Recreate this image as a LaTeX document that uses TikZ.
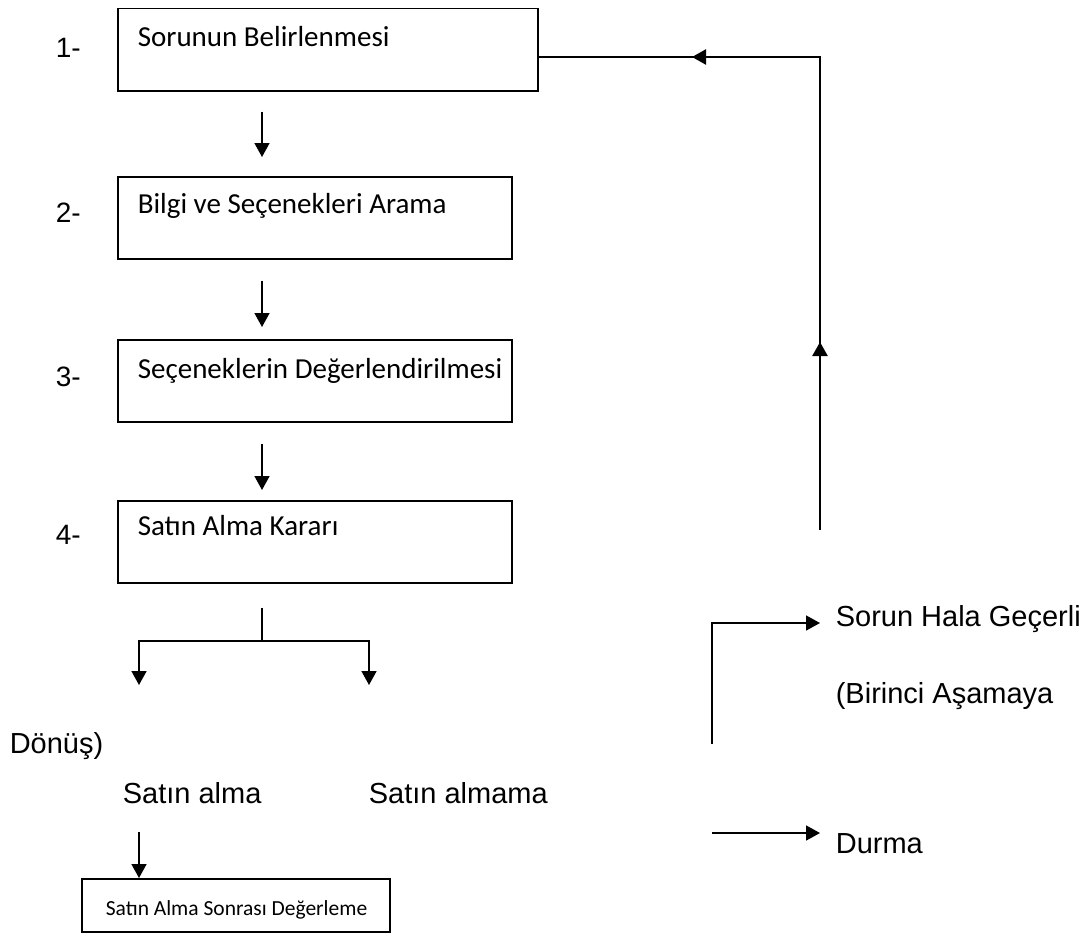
\documentclass[tikz,border=0pt]{standalone}
\usepackage{fontspec}
\setmainfont{Liberation Sans}
\newfontfamily\boxfont{Carlito}
\usetikzlibrary{arrows.meta}

\tikzset{
  stage/.style={draw, line width=1.5pt, anchor=north west, inner sep=0pt, minimum height=82pt},
  stagetext/.style={anchor=base west, inner sep=0pt, font=\boxfont\fontsize{29}{34}\selectfont},
  num/.style={anchor=base west, inner sep=0pt, font=\fontsize{28}{33}\selectfont},
  note/.style={anchor=base west, inner sep=0pt, font=\fontsize{29}{34}\selectfont},
  arr/.style={-{Triangle[length=14pt,width=15pt]}, line width=1.6pt},
}

\begin{document}
\begin{tikzpicture}[x=1pt, y=-1pt, line width=1.6pt]
    \useasboundingbox (0,0) rectangle (1091,942);

    % aşama kutuları
    \node[stage, minimum width=420pt] (s1) at (117,8) {};
    \node[stage, minimum width=394pt] (s2) at (117,176) {};
    \node[stage, minimum width=394pt] (s3) at (117,339) {};
    \node[stage, minimum width=394pt] (s4) at (117,500) {};
    \node[stage, minimum width=308pt, minimum height=53pt] (s5) at (81,878) {};

    \node[stagetext] (t1) at ([shift={(20pt,-38pt)}]s1.north west) {Sorunun Belirlenmesi};
    \node[stagetext] (t2) at ([shift={(20pt,-37pt)}]s2.north west) {Bilgi ve Seçenekleri Arama};
    \node[stagetext] (t3) at ([shift={(20pt,-39pt)}]s3.north west) {Seçeneklerin Değerlendirilmesi};
    \node[stagetext] (t4) at ([shift={(20pt,-35pt)}]s4.north west) {Satın Alma Kararı};
    \node[stagetext, font=\boxfont\fontsize{21.5}{26}\selectfont] (t5)
        at ([shift={(24pt,-37pt)}]s5.north west) {Satın Alma Sonrası Değerleme};

    % numaralar
    \node[num] (n1) at (55,58) {1-};
    \node[num] (n2) at (55,222) {2-};
    \node[num] (n3) at (55,386) {3-};
    \node[num] (n4) at (55,544) {4-};

    % aşamalar arası oklar
    \draw[arr, shorten <=20pt, shorten >=19pt] ([xshift=145pt]s1.south west) -- ([xshift=145pt]s2.north west);
    \draw[arr, shorten <=21pt, shorten >=12pt] ([xshift=145pt]s2.south west) -- ([xshift=145pt]s3.north west);
    \draw[arr, shorten <=21pt, shorten >=10pt] ([xshift=145pt]s3.south west) -- ([xshift=145pt]s4.north west);

    % karar dallanması
    \coordinate (split) at (262,641);
    \coordinate (buyend) at (139,685);
    \coordinate (nobuyend) at (369,685);
    \draw ([shift={(145pt,-24pt)}]s4.south west) -- (split);
    \draw[arr] (split) -| (buyend);
    \draw[arr] (split) -| (nobuyend);

    \node[note] (back) at (9,753) {Dönüş)};
    \node[note] (buy) at (122,803) {Satın alma};
    \node[note] (nobuy) at (368,803) {Satın almama};

    \coordinate (buytail) at (139,832);
    \draw[arr] (buytail) -- (buytail |- s5.north);

    % geri besleme çizgisi
    \coordinate (loopfoot) at (820,530);
    \coordinate (loopturn) at (820,57);
    \draw (loopfoot) -- (loopturn) -- (loopturn -| s1.east);
    \draw[arr, line width=2.4pt] (loopfoot) ++(0,-140) -- ++(0,-48);
    \draw[arr, line width=2.4pt] (loopturn) ++(-62,0) -- ++(-66,0);

    % sağ taraftaki sonuçlar
    \node[note] (still) at (835,626) {Sorun Hala Geçerli};
    \node[note] (first) at (835,703) {(Birinci Aşamaya};
    \node[note] (stop) at (835,853) {Durma};

    \coordinate (elbowfoot) at (712,744);
    \coordinate (stopfoot) at (712,833);
    \draw[arr] (elbowfoot) |- ([shift={(-15pt,3pt)}]still.base west);
    \draw[arr] (stopfoot) -- ([shift={(-15pt,20pt)}]stop.base west);
\end{tikzpicture}
\end{document}
